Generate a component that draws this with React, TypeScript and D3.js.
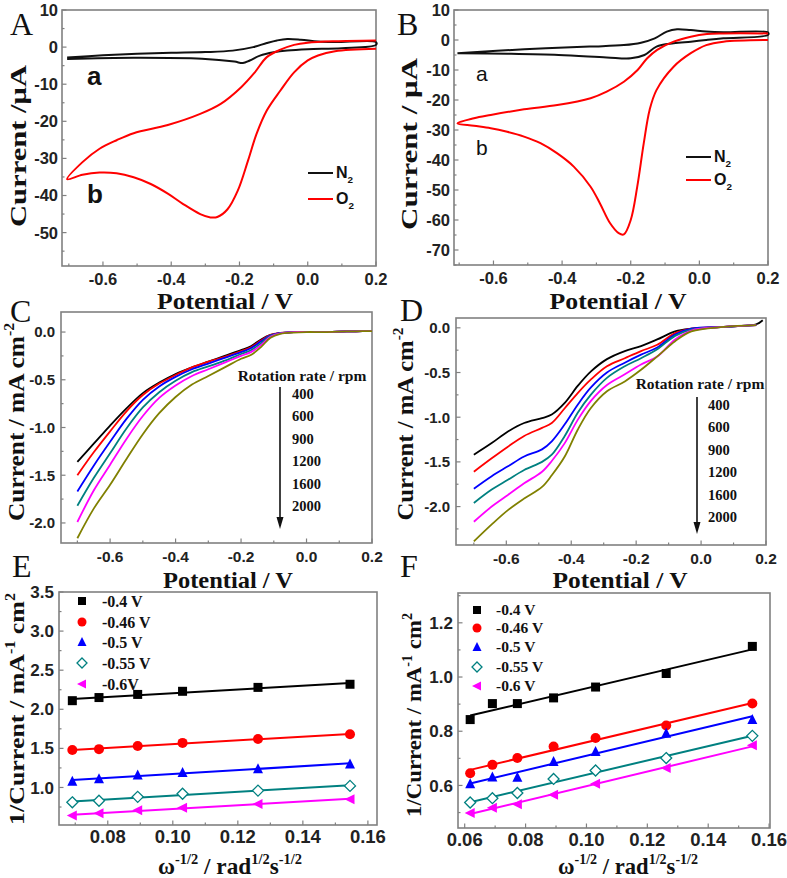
import React from 'react';
import * as d3 from 'd3';

const SANS = "'Liberation Sans', Arial, Helvetica, sans-serif";
const SERIF = "'Liberation Serif', 'Times New Roman', Times, serif";
const AXIS = '#808080';

// ---------- A : CV, [potential V, current uA] ----------
const aN2Anodic = [[-0.705, -2.8], [-0.6, -2.2], [-0.5, -1.8], [-0.4, -1.55], [-0.3, -1.35], [-0.22, -0.95], [-0.16, 0], [-0.12, 1.1], [-0.09, 1.8], [-0.06, 2.2], [-0.02, 2.0], [0.03, 1.5], [0.08, 1.35], [0.2, 1.35]];
const aN2Cathodic = [[0.2, 0.6], [0.1, -0.3], [0.0, -0.55], [-0.06, -0.9], [-0.1, -1.4], [-0.14, -2.3], [-0.17, -3.6], [-0.19, -4.3], [-0.215, -3.9], [-0.31, -3.15], [-0.51, -2.9], [-0.705, -3.2]];
const aO2Cathodic = [[0.2, -0.45], [0.08, -1.1], [0.03, -2.25], [0.0, -3.6], [-0.04, -6.8], [-0.08, -11.7], [-0.12, -17.1], [-0.15, -23.4], [-0.175, -30.6], [-0.205, -38.7], [-0.235, -43.7], [-0.265, -45.8], [-0.285, -45.9], [-0.315, -45.0], [-0.365, -42.3], [-0.41, -39.5], [-0.46, -36.9], [-0.51, -35.1], [-0.56, -34.0], [-0.61, -33.8], [-0.66, -34.4], [-0.705, -35.6]];
const aO2Anodic = [[-0.705, -35.6], [-0.66, -31.0], [-0.61, -27.4], [-0.56, -25.1], [-0.51, -23.2], [-0.41, -21.0], [-0.315, -18.0], [-0.255, -15.3], [-0.195, -10.8], [-0.155, -6.8], [-0.12, -2.7], [-0.08, -0.7], [-0.04, 0.6], [0.0, 1.2], [0.08, 1.6], [0.2, 1.8]];

// ---------- B : CV ----------
const bN2Anodic = [[-0.705, -4.4], [-0.51, -3.1], [-0.32, -2.2], [-0.22, -1.7], [-0.17, -0.9], [-0.13, 0.55], [-0.095, 2.8], [-0.065, 3.6], [-0.025, 3.3], [0.02, 2.8], [0.07, 2.55], [0.2, 2.5]];
const bN2Cathodic = [[0.2, 1.7], [0.07, 0.55], [0.02, 0], [-0.025, -0.55], [-0.075, -1.1], [-0.125, -2.2], [-0.16, -5.0], [-0.2, -6.1], [-0.27, -5.8], [-0.41, -5.0], [-0.56, -4.6], [-0.705, -4.4]];
const bO2Cathodic = [[0.2, 0], [0.07, -0.55], [0.02, -1.7], [-0.025, -4.4], [-0.075, -8.9], [-0.125, -16.7], [-0.145, -23.3], [-0.162, -34.4], [-0.181, -48.9], [-0.2, -60], [-0.22, -64.8], [-0.235, -64.4], [-0.26, -61.1], [-0.29, -54.4], [-0.317, -48.9], [-0.366, -42.2], [-0.414, -37.8], [-0.463, -34.4], [-0.511, -32.2], [-0.56, -30.6], [-0.608, -29.4], [-0.657, -28.6], [-0.705, -27.8]];
const bO2Anodic = [[-0.705, -27.8], [-0.657, -26.1], [-0.608, -25], [-0.511, -23.1], [-0.414, -21.7], [-0.317, -19.4], [-0.27, -17.2], [-0.22, -13.9], [-0.18, -10], [-0.152, -6.1], [-0.123, -3.3], [-0.075, -0.55], [-0.025, 1.1], [0.022, 2], [0.07, 2.2], [0.2, 2.2]];

// ---------- C / D : LSV at rotation rates ----------
const rpm = ['400', '600', '900', '1200', '1600', '2000'];
const rpmColors = ['#000000', '#ff0000', '#0000ff', '#008080', '#ff00ff', '#808000'];

const cPotential = [-0.70, -0.65, -0.60, -0.55, -0.50, -0.45, -0.40, -0.35, -0.30, -0.25, -0.20, -0.17, -0.14, -0.11, -0.08, -0.04, 0.0, 0.05, 0.10, 0.15, 0.20];
const cCurrent = [
  [-1.36, -1.17, -0.98, -0.80, -0.64, -0.53, -0.44, -0.37, -0.31, -0.25, -0.19, -0.15, -0.08, -0.03, -0.01, 0, 0, 0, 0.005, 0.008, 0.01],
  [-1.50, -1.26, -1.04, -0.83, -0.66, -0.54, -0.45, -0.37, -0.31, -0.26, -0.20, -0.16, -0.09, -0.03, -0.01, 0, 0, 0, 0.005, 0.008, 0.01],
  [-1.67, -1.40, -1.15, -0.91, -0.71, -0.57, -0.47, -0.39, -0.33, -0.27, -0.21, -0.17, -0.10, -0.035, -0.01, 0, 0, 0, 0.005, 0.008, 0.01],
  [-1.82, -1.53, -1.27, -1.01, -0.79, -0.63, -0.51, -0.42, -0.36, -0.30, -0.23, -0.19, -0.12, -0.04, -0.012, 0, 0, 0, 0.005, 0.008, 0.01],
  [-1.99, -1.66, -1.39, -1.12, -0.88, -0.69, -0.56, -0.46, -0.39, -0.32, -0.25, -0.21, -0.14, -0.05, -0.015, 0, 0, 0, 0.005, 0.008, 0.01],
  [-2.16, -1.85, -1.60, -1.33, -1.07, -0.85, -0.68, -0.55, -0.46, -0.37, -0.28, -0.24, -0.16, -0.06, -0.02, -0.005, 0, 0, 0.005, 0.008, 0.01],
];

const dPotential = [-0.70, -0.645, -0.595, -0.545, -0.49, -0.46, -0.42, -0.38, -0.34, -0.29, -0.235, -0.185, -0.135, -0.08, -0.03, 0.07, 0.17];
const dCurrent = [
  [-1.42, -1.29, -1.16, -1.065, -1.01, -0.97, -0.84, -0.65, -0.49, -0.35, -0.26, -0.205, -0.13, -0.04, -0.01, 0.01, 0.04],
  [-1.61, -1.46, -1.33, -1.21, -1.12, -1.065, -0.90, -0.73, -0.58, -0.43, -0.34, -0.26, -0.19, -0.06, -0.01, 0.01, 0.03],
  [-1.80, -1.66, -1.55, -1.44, -1.36, -1.27, -1.08, -0.86, -0.67, -0.50, -0.39, -0.30, -0.22, -0.075, -0.01, 0.01, 0.03],
  [-1.96, -1.81, -1.70, -1.59, -1.50, -1.42, -1.21, -0.95, -0.75, -0.56, -0.43, -0.34, -0.24, -0.09, -0.02, 0.01, 0.03],
  [-2.17, -2.00, -1.87, -1.74, -1.61, -1.49, -1.29, -1.03, -0.82, -0.64, -0.52, -0.41, -0.32, -0.13, -0.03, 0.01, 0.03],
  [-2.39, -2.20, -2.04, -1.91, -1.78, -1.65, -1.44, -1.14, -0.90, -0.71, -0.60, -0.47, -0.32, -0.15, -0.04, 0.01, 0.03],
];
const dBlackEnd = [0.19, 0.085];

// ---------- E / F : Koutecky-Levich ----------
const klLabelsE = ['-0.4 V', '-0.46 V', '-0.5 V', '-0.55 V', '-0.6V'];
const klLabelsF = ['-0.4 V', '-0.46 V', '-0.5 V', '-0.55 V', '-0.6 V'];
const klColors = ['#000000', '#ff0000', '#0000ff', '#008080', '#ff00ff'];
const klMarkers = ['square', 'circle', 'up', 'diamond', 'left'];

const eOmega = [0.0691, 0.0773, 0.0892, 0.1030, 0.1262, 0.1545];
const eInv = [
  [2.11, 2.15, 2.19, 2.23, 2.28, 2.32],
  [1.48, 1.49, 1.53, 1.57, 1.62, 1.68],
  [1.08, 1.11, 1.16, 1.19, 1.24, 1.30],
  [0.81, 0.83, 0.88, 0.92, 0.96, 1.02],
  [0.64, 0.67, 0.71, 0.74, 0.79, 0.85],
];
const fOmega = [0.0618, 0.0691, 0.0773, 0.0892, 0.1030, 0.1262, 0.1545];
const fInv = [
  [0.843, 0.902, 0.902, 0.923, 0.963, 1.013, 1.113],
  [0.645, 0.676, 0.701, 0.744, 0.775, 0.821, 0.902],
  [0.606, 0.631, 0.630, 0.688, 0.725, 0.793, 0.843],
  [0.537, 0.553, 0.572, 0.624, 0.655, 0.701, 0.783],
  [0.498, 0.518, 0.531, 0.566, 0.606, 0.664, 0.748],
];

// tick labels
const cvXTicks = [-0.6, -0.4, -0.2, 0.0, 0.2];
const aYTicks = [10, 0, -10, -20, -30, -40, -50];
const bYTicks = [10, 0, -10, -20, -30, -40, -50, -60, -70];
const lsvYTicks = [0.0, -0.5, -1.0, -1.5, -2.0];
const eXTicks = [0.08, 0.10, 0.12, 0.14, 0.16];
const eYTicks = [1.0, 1.5, 2.0, 2.5, 3.0, 3.5];
const fXTicks = [0.06, 0.08, 0.10, 0.12, 0.14, 0.16];
const fYTicks = [0.6, 0.8, 1.0, 1.2];

type Scale = d3.ScaleLinear<number, number>;
type Part = { t: string; sup?: boolean; sub?: boolean };

function minorTicks(domain: number[], step: number) {
  const lo = Math.min(domain[0], domain[1]);
  const hi = Math.max(domain[0], domain[1]);
  const s = Math.ceil(lo / step - 1e-6);
  const e = Math.floor(hi / step + 1e-6);
  return d3.range(s, e + 1).map(k => k * step);
}

function Rich({ parts, size }: { parts: Part[]; size: number }) {
  let cur = 0;
  return (
    <>
      {parts.map((p, i) => {
        const shift = p.sup ? -size * 0.42 : p.sub ? size * 0.3 : 0;
        const dy = shift - cur;
        cur = shift;
        return (
          <tspan key={i} dy={dy} fontSize={p.sup || p.sub ? size * 0.62 : size}>
            {p.t}
          </tspan>
        );
      })}
    </>
  );
}

function Axes({ x, y, xTicks, yTicks, xStep, yStep, xFmt, yFmt, xFont, yFont, xBase, yGap }: {
  x: Scale; y: Scale; xTicks: number[]; yTicks: number[]; xStep: number; yStep: number;
  xFmt: (v: number) => string; yFmt: (v: number) => string;
  xFont: number; yFont: number; xBase: number; yGap: number;
}) {
  const [l, r] = x.range();
  const [b, t] = y.range();
  const xm = minorTicks(x.domain(), xStep / 2);
  const ym = minorTicks(y.domain(), yStep / 2);
  const isMajor = (v: number, ticks: number[]) => ticks.some(k => Math.abs(k - v) < 1e-6);
  return (
    <g>
      <g stroke={AXIS} strokeWidth={1.2}>
        {xm.map((v, i) => {
          const len = isMajor(v, xTicks) ? 4.5 : 2.5;
          return <line key={'x' + i} x1={x(v)} x2={x(v)} y1={b} y2={b - len} />;
        })}
        {ym.map((v, i) => {
          const len = isMajor(v, yTicks) ? 4.5 : 2.5;
          return <line key={'y' + i} x1={l} x2={l + len} y1={y(v)} y2={y(v)} />;
        })}
      </g>
      <rect x={l} y={t} width={r - l} height={b - t} fill="none" stroke={AXIS} strokeWidth={1.6} />
      <g fontFamily={SANS} fontWeight="bold" fill="#222">
        {xTicks.map(v => (
          <text key={'xl' + v} x={x(v)} y={xBase} fontSize={xFont} textAnchor="middle">{xFmt(v)}</text>
        ))}
        {yTicks.map(v => (
          <text key={'yl' + v} x={l - yGap} y={y(v)} dy="0.36em" fontSize={yFont} textAnchor="end">{yFmt(v)}</text>
        ))}
      </g>
    </g>
  );
}

function XTitle({ cx, base, len, size, parts }: { cx: number; base: number; len: number; size: number; parts: Part[] }) {
  return (
    <text x={cx} y={base} textAnchor="middle" fontFamily={SERIF} fontWeight="bold" fontSize={size}
      textLength={len} lengthAdjust="spacingAndGlyphs" fill="#111">
      <Rich parts={parts} size={size} />
    </text>
  );
}

function YTitle({ bx, cy, len, size, parts }: { bx: number; cy: number; len: number; size: number; parts: Part[] }) {
  return (
    <text transform={`translate(${bx},${cy}) rotate(-90)`} textAnchor="middle" fontFamily={SERIF}
      fontWeight="bold" fontSize={size} textLength={len} lengthAdjust="spacingAndGlyphs" fill="#111">
      <Rich parts={parts} size={size} />
    </text>
  );
}

function Letter({ x, y, c }: { x: number; y: number; c: string }) {
  return <text x={x} y={y} fontFamily={SERIF} fontSize={32} fill="#111">{c}</text>;
}

function Marker({ kind, cx, cy, color, s = 9 }: { kind: string; cx: number; cy: number; color: string; s?: number }) {
  const h = s / 2;
  if (kind === 'square') return <rect x={cx - h} y={cy - h} width={s} height={s} fill={color} />;
  if (kind === 'circle') return <circle cx={cx} cy={cy} r={h + 0.5} fill={color} />;
  if (kind === 'up') return <path d={`M${cx},${cy - h - 1}L${cx + h + 0.5},${cy + h}L${cx - h - 0.5},${cy + h}Z`} fill={color} />;
  if (kind === 'diamond') return <path d={`M${cx},${cy - h - 1}L${cx + h + 1},${cy}L${cx},${cy + h + 1}L${cx - h - 1},${cy}Z`} fill="white" stroke={color} strokeWidth={1.3} />;
  return <path d={`M${cx - h - 1},${cy}L${cx + h},${cy - h - 0.5}L${cx + h},${cy + h + 0.5}Z`} fill={color} />;
}

function linFit(xs: number[], ys: number[]) {
  const mx = d3.mean(xs) as number;
  const my = d3.mean(ys) as number;
  const sxy = d3.sum(xs, (v, i) => (v - mx) * (ys[i] - my));
  const sxx = d3.sum(xs, v => (v - mx) * (v - mx));
  const slope = sxy / sxx;
  return (v: number) => my + slope * (v - mx);
}

const f1 = (v: number) => v.toFixed(1);
const f2 = (v: number) => v.toFixed(2);
const f0 = (v: number) => String(Math.round(v));

const potentialTitle: Part[] = [{ t: 'Potential / V' }];
const omegaTitle: Part[] = [{ t: 'ω' }, { t: '-1/2', sup: true }, { t: ' / rad' }, { t: '1/2', sup: true }, { t: 's' }, { t: '-1/2', sup: true }];
const invTitle: Part[] = [{ t: '1/Current / mA' }, { t: '-1', sup: true }, { t: ' cm' }, { t: '2', sup: true }];
const lsvTitle: Part[] = [{ t: 'Current / mA cm' }, { t: '-2', sup: true }];

function CVPanel({ x, y, n2, o2, yTicks, labels, legend, letterPos, yTitle, boldAB }: any) {
  const line = d3.line<number[]>().x(d => x(d[0])).y(d => y(d[1])).curve(d3.curveCatmullRom.alpha(0.5));
  return (
    <g>
      <Axes x={x} y={y} xTicks={cvXTicks} yTicks={yTicks} xStep={0.2} yStep={10} xFmt={f1} yFmt={f0}
        xFont={16.5} yFont={16.5} xBase={y.range()[0] + 19} yGap={4} />
      <path d={line(n2) || ''} fill="none" stroke="#111" strokeWidth={2} />
      <path d={line(o2) || ''} fill="none" stroke="#ff0000" strokeWidth={2} />
      <g fontFamily={SANS} fontWeight={boldAB ? 'bold' : 'normal'} fontSize={boldAB ? 26 : 21} fill="#111">
        <text x={labels[0][0]} y={labels[0][1]}>a</text>
        <text x={labels[1][0]} y={labels[1][1]}>b</text>
      </g>
      <g fontFamily={SANS} fontWeight="bold" fontSize={16} fill="#111">
        <line x1={legend[0]} x2={legend[0] + 25} y1={legend[1]} y2={legend[1]} stroke="#111" strokeWidth={2} />
        <text x={legend[0] + 28} y={legend[1] + 5}><Rich parts={[{ t: 'N' }, { t: '2', sub: true }]} size={16} /></text>
        <line x1={legend[0]} x2={legend[0] + 25} y1={legend[2]} y2={legend[2]} stroke="#ff0000" strokeWidth={2} />
        <text x={legend[0] + 28} y={legend[2] + 5}><Rich parts={[{ t: 'O' }, { t: '2', sub: true }]} size={16} /></text>
      </g>
      <Letter x={letterPos[0]} y={letterPos[1]} c={letterPos[2]} />
      <XTitle cx={yTitle.xc} base={yTitle.xb} len={yTitle.xl} size={24} parts={potentialTitle} />
      <YTitle bx={yTitle.bx} cy={yTitle.cy} len={yTitle.len} size={24} parts={yTitle.parts} />
    </g>
  );
}

function LSVPanel({ x, y, pot, cur, legend, extra }: any) {
  const line = d3.line<number[]>().x(d => x(d[0])).y(d => y(d[1])).curve(d3.curveCatmullRom.alpha(0.5));
  return (
    <g>
      <Axes x={x} y={y} xTicks={cvXTicks} yTicks={lsvYTicks} xStep={0.2} yStep={0.5} xFmt={f1} yFmt={f1}
        xFont={15.5} yFont={15} xBase={y.range()[0] + 19} yGap={6} />
      {cur.map((c: number[], k: number) => {
        const pts = pot.map((p: number, i: number) => [p, c[i]]);
        if (k === 0 && extra) pts.push(extra);
        return <path key={k} d={line(pts) || ''} fill="none" stroke={rpmColors[k]} strokeWidth={1.8} />;
      })}
      <g fontFamily={SERIF} fontWeight="bold" fill="#111">
        <text x={legend.tx} y={legend.ty} fontSize={15.5} textAnchor="middle">Rotation rate / rpm</text>
        {rpm.map((r, i) => (
          <text key={r} x={legend.nx} y={legend.ny + i * 22.4} fontSize={14.5}>{r}</text>
        ))}
      </g>
      <line x1={legend.ax} x2={legend.ax} y1={legend.a0} y2={legend.a1 - 10} stroke="#111" strokeWidth={1.6} />
      <path d={`M${legend.ax - 3.5},${legend.a1 - 12}L${legend.ax + 3.5},${legend.a1 - 12}L${legend.ax},${legend.a1}Z`} fill="#111" />
    </g>
  );
}

function KLPanel({ x, y, omega, inv, xTicks, yTicks, yStep, labels, leg }: any) {
  return (
    <g>
      <Axes x={x} y={y} xTicks={xTicks} yTicks={yTicks} xStep={0.02} yStep={yStep} xFmt={f2} yFmt={f1}
        xFont={18.5} yFont={17} xBase={y.range()[0] + 18} yGap={5} />
      {inv.map((ys: number[], k: number) => {
        const fit = linFit(omega, ys);
        const x0 = omega[0];
        const x1 = omega[omega.length - 1];
        return (
          <g key={k}>
            <line x1={x(x0)} x2={x(x1)} y1={y(fit(x0))} y2={y(fit(x1))} stroke={klColors[k]} strokeWidth={2} />
            {ys.map((v: number, i: number) => (
              <Marker key={i} kind={klMarkers[k]} cx={x(omega[i])} cy={y(v)} color={klColors[k]} />
            ))}
          </g>
        );
      })}
      <g fontFamily={SERIF} fontWeight="bold" fontSize={leg.size} fill="#111">
        {labels.map((t: string, k: number) => (
          <g key={t}>
            <Marker kind={klMarkers[k]} cx={leg.mx} cy={leg.rows[k]} color={klColors[k]} s={8} />
            <text x={leg.tx} y={leg.rows[k]} dy="0.35em">{t}</text>
          </g>
        ))}
      </g>
    </g>
  );
}

export default function App() {
  const xA = d3.scaleLinear().domain([-0.72, 0.2]).range([62, 376]);
  const yA = d3.scaleLinear().domain([-59, 10]).range([266, 10]);
  const xB = d3.scaleLinear().domain([-0.715, 0.2]).range([454, 768]);
  const yB = d3.scaleLinear().domain([-75, 10]).range([265, 10]);
  const xC = d3.scaleLinear().domain([-0.75, 0.2]).range([61, 372]);
  const yC = d3.scaleLinear().domain([-2.21, 0.21]).range([543, 312]);
  const xD = d3.scaleLinear().domain([-0.755, 0.2]).range([456, 766]);
  const yD = d3.scaleLinear().domain([-2.43, 0.11]).range([545, 318]);
  const xE = d3.scaleLinear().domain([0.065, 0.1628]).range([59, 377]);
  const yE = d3.scaleLinear().domain([0.52, 3.5]).range([825, 592]);
  const xF = d3.scaleLinear().domain([0.0578, 0.1603]).range([458, 770]);
  const yF = d3.scaleLinear().domain([0.443, 1.31]).range([828, 593]);

  return (
    <svg width={787} height={878} style={{ position: 'absolute', left: 0, top: 0, background: 'white' }}>
      <rect width={787} height={878} fill="white" />
      <CVPanel x={xA} y={yA} n2={[...aN2Anodic, ...aN2Cathodic]} o2={[...aO2Cathodic, ...aO2Anodic.slice(1)]}
        yTicks={aYTicks} labels={[[87, 85], [87, 203]]} legend={[308, 173, 199]} letterPos={[10, 35, 'A']} boldAB
        yTitle={{ xc: 225, xb: 309, xl: 136, bx: 26, cy: 146, len: 162, parts: [{ t: 'Current /μA' }] }} />
      <CVPanel x={xB} y={yB} n2={[...bN2Anodic, ...bN2Cathodic]} o2={[...bO2Cathodic, ...bO2Anodic.slice(1)]}
        yTicks={bYTicks} labels={[[476, 81], [476, 155]]} legend={[686, 157, 180]} letterPos={[397, 35, 'B']} boldAB={false}
        yTitle={{ xc: 618, xb: 309, xl: 137, bx: 417, cy: 144, len: 172, parts: [{ t: 'Current / μA' }] }} />

      <LSVPanel x={xC} y={yC} pot={cPotential} cur={cCurrent}
        legend={{ tx: 302, ty: 381, nx: 292, ny: 399, ax: 280, a0: 387, a1: 529 }} />
      <LSVPanel x={xD} y={yD} pot={dPotential} cur={dCurrent} extra={dBlackEnd}
        legend={{ tx: 700, ty: 389, nx: 708, ny: 410, ax: 697, a0: 397, a1: 534 }} />
      <Letter x={10} y={322} c="C" />
      <Letter x={400} y={321} c="D" />
      <XTitle cx={228} base={588} len={130} size={24} parts={potentialTitle} />
      <XTitle cx={620} base={588} len={135} size={24} parts={potentialTitle} />
      <YTitle bx={24} cy={422} len={198} size={23} parts={lsvTitle} />
      <YTitle bx={413} cy={424} len={193} size={23} parts={lsvTitle} />

      <KLPanel x={xE} y={yE} omega={eOmega} inv={eInv} xTicks={eXTicks} yTicks={eYTicks} yStep={0.5}
        labels={klLabelsE} leg={{ mx: 82, tx: 102, size: 16, rows: [601, 622, 642, 663, 684] }} />
      <KLPanel x={xF} y={yF} omega={fOmega} inv={fInv} xTicks={fXTicks} yTicks={fYTicks} yStep={0.2}
        labels={klLabelsF} leg={{ mx: 477, tx: 496, size: 15.5, rows: [610, 628, 647, 667, 686] }} />
      <Letter x={12} y={577} c="E" />
      <Letter x={400} y={577} c="F" />
      <XTitle cx={230} base={874} len={144} size={23} parts={omegaTitle} />
      <XTitle cx={628} base={874} len={140} size={23} parts={omegaTitle} />
      <YTitle bx={24} cy={709} len={232} size={22} parts={invTitle} />
      <YTitle bx={421} cy={715} len={204} size={22} parts={invTitle} />
    </svg>
  );
}
